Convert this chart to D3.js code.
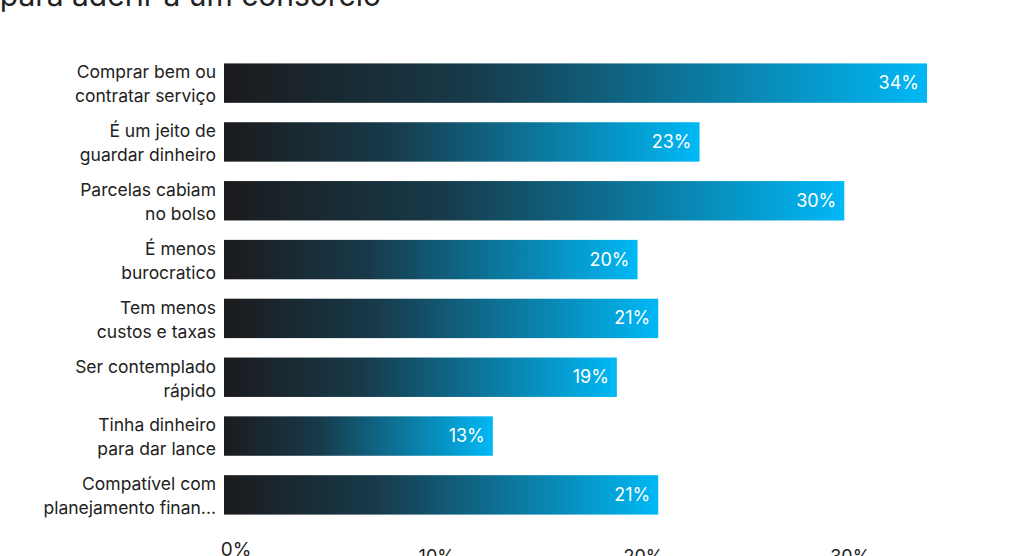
<!DOCTYPE html>
<html><head><meta charset="utf-8">
<script src="https://cdn.jsdelivr.net/npm/d3@7"></script>
<style>body{margin:0;background:#fff;overflow:hidden}text{font-family:Inter,"Noto Sans",sans-serif}</style>
</head><body><svg id="c" width="1024" height="556"></svg>
<script>
var categories = [
  ["Comprar bem ou", "contratar serviço"],
  ["É um jeito de", "guardar dinheiro"],
  ["Parcelas cabiam", "no bolso"],
  ["É menos", "burocratico"],
  ["Tem menos", "custos e taxas"],
  ["Ser contemplado", "rápido"],
  ["Tinha dinheiro", "para dar lance"],
  ["Compatível com", "planejamento finan..."]
];
var values = [34, 23, 30, 20, 21, 19, 13, 21];
var ticks = [0, 10, 20, 30];

var svg = d3.select("#c");
var x = d3.scaleLinear().domain([0, 34]).range([224, 927]);
var y = d3.scaleBand().domain(d3.range(values.length)).range([54, 524]).paddingInner(0.33).paddingOuter(0.16);

var grad = svg.append("defs").append("linearGradient").attr("id", "g");
grad.append("stop").attr("offset", "0%").attr("stop-color", "#1b1b1d");
grad.append("stop").attr("offset", "35%").attr("stop-color", "#173a4a");
grad.append("stop").attr("offset", "100%").attr("stop-color", "#00b8f5");

svg.append("text").attr("x", 381).attr("y", 6).attr("text-anchor", "end")
  .attr("font-size", 30).attr("fill", "#222")
  .text("Principais motivos para aderir a um consórcio");

var row = svg.selectAll("g.row").data(values).enter().append("g").attr("class", "row");
row.append("rect")
  .attr("x", x(0)).attr("y", function(d, i){ return y(i); })
  .attr("width", function(d){ return x(d) - x(0); })
  .attr("height", y.bandwidth()).attr("fill", "url(#g)");
row.append("text")
  .attr("x", function(d){ return x(d) - 8; })
  .attr("y", function(d, i){ return y(i) + y.bandwidth() / 2 + 6; })
  .attr("text-anchor", "end").attr("font-size", 18).attr("fill", "#fff")
  .text(function(d){ return d + "%"; });
row.append("text")
  .attr("text-anchor", "end").attr("font-size", 17.5).attr("fill", "#222")
  .selectAll("tspan").data(function(d, i){ return categories[i].map(function(t, k){ return {t: t, k: k, i: i}; }); })
  .enter().append("tspan")
  .attr("x", 216)
  .attr("y", function(o){ return y(o.i) + 15 + o.k * 24; })
  .text(function(o){ return o.t; });

svg.selectAll("text.tick").data(ticks).enter().append("text").attr("class", "tick")
  .attr("x", function(d){ return x(d) + (d === 0 ? 12 : 6); })
  .attr("y", function(d){ return d === 0 ? 556 : 563; })
  .attr("text-anchor", "middle").attr("font-size", function(d){ return d === 0 ? 19 : 18; })
  .attr("fill", "#222").text(function(d){ return d + "%"; });
</script></body></html>
